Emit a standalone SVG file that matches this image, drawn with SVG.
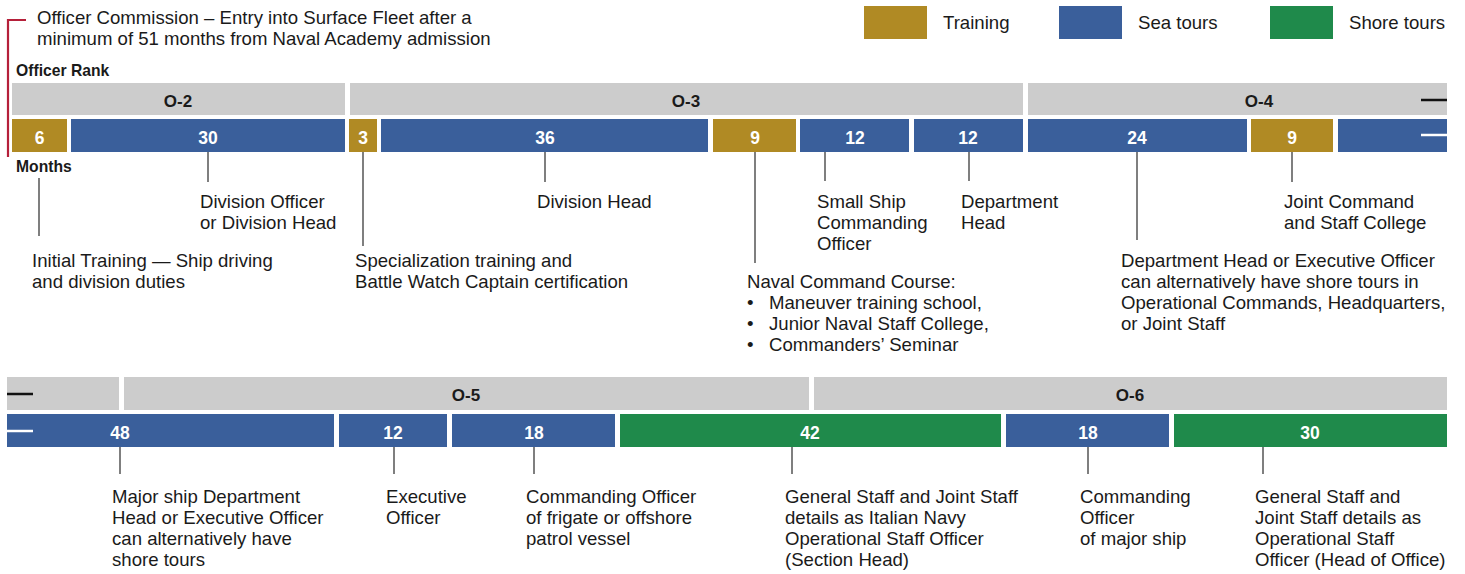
<svg xmlns="http://www.w3.org/2000/svg" width="1465" height="574" viewBox="0 0 1465 574">
<style>
text{font-family:"Liberation Sans",Arial,sans-serif;fill:#1a1a1a}
.t{font-size:18.6px}
.hd{font-size:15.7px;font-weight:bold}
.rk{font-size:17px;font-weight:bold;text-anchor:middle;fill:#1a1a1a}
.nm{font-size:17.5px;font-weight:bold;text-anchor:middle;fill:#fff}
.g{fill:#cccccc}
.tr{fill:#b08a24}
.se{fill:#3a5f9b}
.sh{fill:#1f8a4b}
.ld{stroke:#555;stroke-width:1.5;fill:none}
</style>
<rect width="1465" height="574" fill="#fff"/>
<g id="legend">
<rect class="tr" x="864" y="6" width="63" height="33"/>
<text class="t" x="943" y="29">Training</text>
<rect class="se" x="1059" y="6" width="63" height="33"/>
<text class="t" x="1138" y="29">Sea tours</text>
<rect class="sh" x="1270" y="6" width="63" height="33"/>
<text class="t" x="1349" y="29">Shore tours</text>
</g>
<g id="commission">
<path d="M26 20H8V157" stroke="#b5203a" stroke-width="2.2" fill="none"/>
<text class="t" x="37" y="24">Officer Commission – Entry into Surface Fleet after a</text>
<text class="t" x="37" y="45">minimum of 51 months from Naval Academy admission</text>
</g>
<text class="hd" x="16" y="76">Officer Rank</text>
<text class="hd" x="16" y="172">Months</text>
<g id="ranks-row1">
<rect class="g" x="12" y="83" width="333" height="32"/><text class="rk" x="178" y="107">O-2</text>
<rect class="g" x="350" y="83" width="673" height="32"/><text class="rk" x="686" y="107">O-3</text>
<rect class="g" x="1028" y="83" width="419" height="32"/><text class="rk" x="1259" y="107">O-4</text>
<line x1="1421" y1="100" x2="1447" y2="100" stroke="#111" stroke-width="2.5"/>
</g>
<g id="months-row1">
<rect class="tr" x="12" y="119" width="55" height="33"/><text class="nm" x="39.5" y="144">6</text>
<rect class="se" x="71" y="119" width="274" height="33"/><text class="nm" x="208" y="144">30</text>
<rect class="tr" x="349" y="119" width="28" height="33"/><text class="nm" x="363" y="144">3</text>
<rect class="se" x="381" y="119" width="327" height="33"/><text class="nm" x="545" y="144">36</text>
<rect class="tr" x="713" y="119" width="83" height="33"/><text class="nm" x="755" y="144">9</text>
<rect class="se" x="800" y="119" width="109" height="33"/><text class="nm" x="855" y="144">12</text>
<rect class="se" x="914" y="119" width="109" height="33"/><text class="nm" x="968" y="144">12</text>
<rect class="se" x="1028" y="119" width="219" height="33"/><text class="nm" x="1137" y="144">24</text>
<rect class="tr" x="1251" y="119" width="82" height="33"/><text class="nm" x="1292" y="144">9</text>
<rect class="se" x="1338" y="119" width="109" height="33"/>
<line x1="1421" y1="135" x2="1447" y2="135" stroke="#fff" stroke-width="2.5"/>
</g>
<g id="ranks-row2">
<rect class="g" x="7" y="377" width="112" height="33"/>
<line x1="7" y1="394" x2="33" y2="394" stroke="#111" stroke-width="2.5"/>
<rect class="g" x="124" y="377" width="685" height="33"/><text class="rk" x="466" y="401">O-5</text>
<rect class="g" x="814" y="377" width="633" height="33"/><text class="rk" x="1130" y="401">O-6</text>
</g>
<g id="months-row2">
<rect class="se" x="7" y="414" width="327" height="33"/><text class="nm" x="120" y="439">48</text>
<line x1="7" y1="431" x2="33" y2="431" stroke="#fff" stroke-width="2.5"/>
<rect class="se" x="339" y="414" width="108" height="33"/><text class="nm" x="393" y="439">12</text>
<rect class="se" x="452" y="414" width="163" height="33"/><text class="nm" x="534" y="439">18</text>
<rect class="sh" x="620" y="414" width="381" height="33"/><text class="nm" x="810" y="439">42</text>
<rect class="se" x="1006" y="414" width="163" height="33"/><text class="nm" x="1088" y="439">18</text>
<rect class="sh" x="1174" y="414" width="273" height="33"/><text class="nm" x="1310" y="439">30</text>
</g>
<g id="connectors">
<line class="ld" x1="39" y1="178" x2="39" y2="236"/>
<line class="ld" x1="208" y1="152" x2="208" y2="182"/>
<line class="ld" x1="363" y1="152" x2="363" y2="246"/>
<line class="ld" x1="545" y1="152" x2="545" y2="182"/>
<line class="ld" x1="755" y1="152" x2="755" y2="263"/>
<line class="ld" x1="825" y1="152" x2="825" y2="181"/>
<line class="ld" x1="969" y1="152" x2="969" y2="181"/>
<line class="ld" x1="1137" y1="152" x2="1137" y2="240"/>
<line class="ld" x1="1292" y1="152" x2="1292" y2="182"/>
<line class="ld" x1="120" y1="447" x2="120" y2="474"/>
<line class="ld" x1="394" y1="447" x2="394" y2="474"/>
<line class="ld" x1="534" y1="447" x2="534" y2="474"/>
<line class="ld" x1="792" y1="447" x2="792" y2="474"/>
<line class="ld" x1="1088" y1="447" x2="1088" y2="474"/>
<line class="ld" x1="1263" y1="447" x2="1263" y2="474"/>
</g>
<g id="label-initial-training"><text class="t" x="32" y="267">Initial Training — Ship driving</text><text class="t" x="32" y="288">and division duties</text></g>
<g id="label-division-officer"><text class="t" x="200" y="208">Division Officer</text><text class="t" x="200" y="229">or Division Head</text></g>
<g id="label-specialization"><text class="t" x="355" y="267">Specialization training and</text><text class="t" x="355" y="288">Battle Watch Captain certification</text></g>
<g id="label-division-head"><text class="t" x="537" y="208">Division Head</text></g>
<g id="label-naval-command"><text class="t" x="747" y="288">Naval Command Course:</text>
<text class="t" x="747" y="309">•</text><text class="t" x="769" y="309">Maneuver training school,</text>
<text class="t" x="747" y="330">•</text><text class="t" x="769" y="330">Junior Naval Staff College,</text>
<text class="t" x="747" y="351">•</text><text class="t" x="769" y="351">Commanders’ Seminar</text></g>
<g id="label-small-ship"><text class="t" x="817" y="208">Small Ship</text><text class="t" x="817" y="229">Commanding</text><text class="t" x="817" y="250">Officer</text></g>
<g id="label-department-head"><text class="t" x="961" y="208">Department</text><text class="t" x="961" y="229">Head</text></g>
<g id="label-dept-head-xo"><text class="t" x="1121" y="267">Department Head or Executive Officer</text><text class="t" x="1121" y="288">can alternatively have shore tours in</text><text class="t" x="1121" y="309">Operational Commands, Headquarters,</text><text class="t" x="1121" y="330">or Joint Staff</text></g>
<g id="label-joint-command"><text class="t" x="1284" y="208">Joint Command</text><text class="t" x="1284" y="229">and Staff College</text></g>
<g id="label-major-ship-dept"><text class="t" x="112" y="503">Major ship Department</text><text class="t" x="112" y="524">Head or Executive Officer</text><text class="t" x="112" y="545">can alternatively have</text><text class="t" x="112" y="566">shore tours</text></g>
<g id="label-executive"><text class="t" x="386" y="503">Executive</text><text class="t" x="386" y="524">Officer</text></g>
<g id="label-co-frigate"><text class="t" x="526" y="503">Commanding Officer</text><text class="t" x="526" y="524">of frigate or offshore</text><text class="t" x="526" y="545">patrol vessel</text></g>
<g id="label-general-staff-1"><text class="t" x="785" y="503">General Staff and Joint Staff</text><text class="t" x="785" y="524">details as Italian Navy</text><text class="t" x="785" y="545">Operational Staff Officer</text><text class="t" x="785" y="566">(Section Head)</text></g>
<g id="label-co-major"><text class="t" x="1080" y="503">Commanding</text><text class="t" x="1080" y="524">Officer</text><text class="t" x="1080" y="545">of major ship</text></g>
<g id="label-general-staff-2"><text class="t" x="1255" y="503">General Staff and</text><text class="t" x="1255" y="524">Joint Staff details as</text><text class="t" x="1255" y="545">Operational Staff</text><text class="t" x="1255" y="566">Officer (Head of Office)</text></g>
</svg>
